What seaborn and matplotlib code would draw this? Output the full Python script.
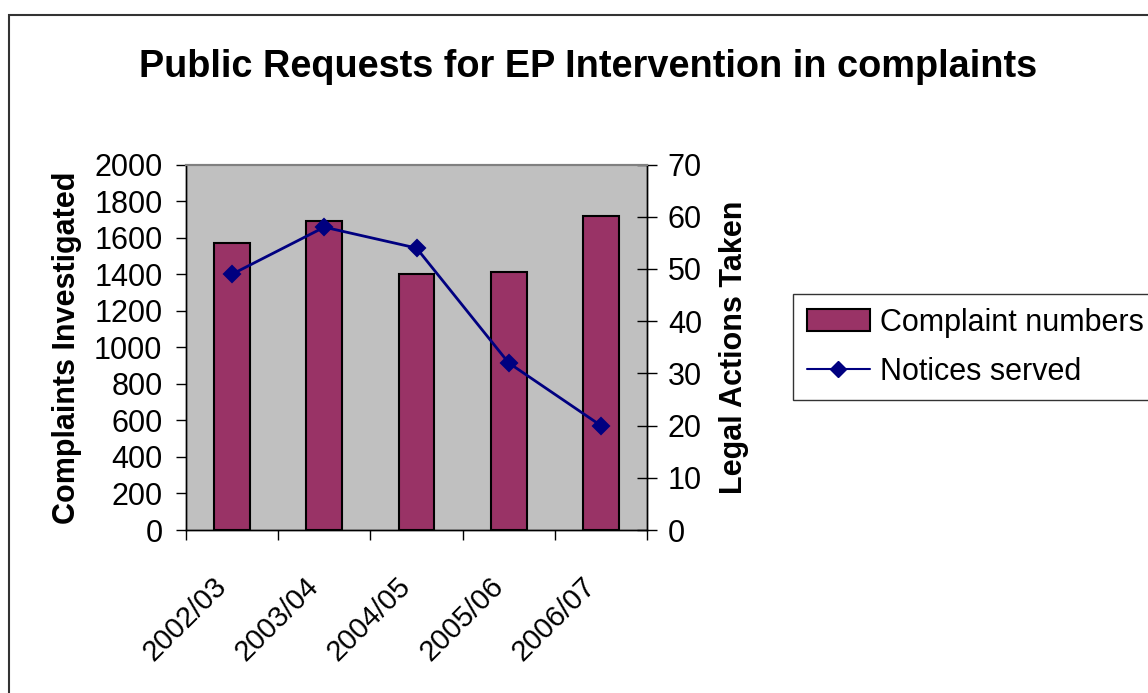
import numpy as np
import pandas as pd
import seaborn as sns
import matplotlib.pyplot as plt
from matplotlib.patches import Rectangle, Patch
from matplotlib.lines import Line2D
from matplotlib.transforms import ScaledTranslation

years = ['2002/03', '2003/04', '2004/05', '2005/06', '2006/07']
complaints = [1570, 1690, 1400, 1410, 1720]
notices = [49, 58, 54, 32, 20]

df = pd.DataFrame({'year': years, 'complaints': complaints, 'notices': notices})

sns.set_theme(style='white')
plt.rcParams['font.family'] = ['Liberation Sans', 'DejaVu Sans']
plt.rcParams['text.color'] = 'black'
plt.rcParams['axes.labelcolor'] = 'black'
plt.rcParams['xtick.color'] = 'black'
plt.rcParams['ytick.color'] = 'black'

bar_col = '#993366'
line_col = '#000080'

fig = plt.figure(figsize=(11.48, 6.93), dpi=100)
ax = fig.add_axes([186/1148, 1-530/693, (647-186)/1148, (530-164.5)/693])
ax.set_facecolor('#C0C0C0')

sns.barplot(data=df, x='year', y='complaints', color=bar_col, width=0.39,
            edgecolor='black', linewidth=1.5, saturation=1, ax=ax, zorder=3)

ax2 = ax.twinx()
sns.pointplot(data=df, x='year', y='notices', color=line_col, markers='D',
              markersize=8, linewidth=2, errorbar=None, ax=ax2)

ax.set_xlim(-0.5, 4.5)
ax.set_ylim(0, 2000)
ax2.set_ylim(0, 70)
ax.set_yticks(range(0, 2001, 200))
ax2.set_yticks(range(0, 71, 10))

# category labels in the middle, tick marks on the boundaries
ax.set_xticks(range(5))
ax.set_xticklabels(years, rotation=45, ha='right', va='top', fontsize=21)
shift = ScaledTranslation(-13/100, 0, fig.dpi_scale_trans)
for lab in ax.get_xticklabels():
    lab.set_transform(lab.get_transform() + shift)
ax.set_xticks(np.arange(-0.5, 5, 1), minor=True)
ax.tick_params(axis='x', which='major', length=0, pad=30)
ax.tick_params(axis='x', which='minor', length=7, width=1, color='black', direction='out', bottom=True)
ax.tick_params(axis='y', length=7, width=1, color='black', direction='out', left=True, labelsize=22, pad=10)
ax2.tick_params(axis='y', length=14, width=1, color='black', direction='inout', right=True, labelsize=22, pad=8)

ax.set_xlabel('')
ax.set_ylabel('Complaints Investigated', fontsize=22, fontweight='bold', labelpad=9)
ax2.set_ylabel('Legal Actions Taken', fontsize=22, fontweight='bold', labelpad=12)

for a in (ax, ax2):
    for s in a.spines.values():
        s.set_color('black')
        s.set_linewidth(1)
    a.spines['top'].set_color('#808080')
    a.spines['top'].set_linewidth(1.5)

fig.text(588/1148, 1-67/693, 'Public Requests for EP Intervention in complaints',
         ha='center', va='center', fontsize=27.3, fontweight='bold')

handles = [Patch(facecolor=bar_col, edgecolor='black', linewidth=1.5),
           Line2D([], [], color=line_col, marker='D', markersize=8, linewidth=1.5)]
leg = fig.legend(handles, ['Complaint numbers', 'Notices served'],
                 loc='upper left', bbox_to_anchor=(793/1148, 1-294/693),
                 fontsize=22, frameon=True, fancybox=False, handlelength=2.06,
                 handletextpad=0.33, borderpad=0.45, labelspacing=0.62, borderaxespad=0)
leg.get_frame().set_edgecolor('black')
leg.get_frame().set_linewidth(1)

fig.patches.append(Rectangle((9/1148, -0.05), 1.1, 1-15/693+0.05, transform=fig.transFigure,
                             fill=False, edgecolor='#333333', linewidth=1.5))

fig.savefig('out.png', dpi=100)
